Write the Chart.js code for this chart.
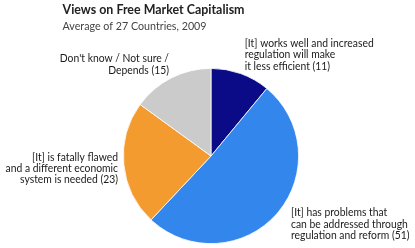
<!DOCTYPE html>
<html><head><meta charset="utf-8">
<script src="https://cdn.jsdelivr.net/npm/chart.js@4"></script>
<style>html,body{margin:0;padding:0;background:#fff}#wrap{width:415px;height:248px;position:relative}</style>
</head><body><div id="wrap"><canvas id="c" width="415" height="248"></canvas></div>
<script>
const categories = [
  "[It] works well and increased regulation will make it less efficient",
  "[It] has problems that can be addressed through regulation and reform",
  "[It] is fatally flawed and a different economic system is needed",
  "Don't know / Not sure / Depends"
];
const values = [11, 51, 23, 15];
const colors = ["#0b0b87", "#3386ec", "#f39b2f", "#cbcbcb"];
const labelLines = [
  ["[It] works well and increased", "regulation will make", "it less efficient (11)"],
  ["[It] has problems that", "can be addressed through", "regulation and reform (51)"],
  ["[It] is fatally flawed", "and a different economic", "system is needed (23)"],
  ["Don't know / Not sure /", "Depends (15)"]
];
const titleText = "Views on Free Market Capitalism";
const subtitleText = "Average of 27 Countries, 2009";

const FONT = "Lato, sans-serif";
function drawScaled(ctx, text, x, y, sx, align) {
  const w = ctx.measureText(text).width * sx;
  const left = align === 'right' ? x - w : x;
  ctx.save();
  ctx.textAlign = 'left';
  ctx.translate(left, y);
  ctx.scale(sx, 1);
  ctx.fillText(text, 0, 0);
  ctx.restore();
}
const textPlugin = {
  id: 'texts',
  afterDraw(chart) {
    const ctx = chart.ctx;
    ctx.save();
    ctx.textBaseline = 'alphabetic';
    ctx.fillStyle = '#222';
    ctx.font = "bold 13px " + FONT;
    drawScaled(ctx, titleText, 62.5, 13.5, 182 / ctx.measureText(titleText).width, 'left');
    ctx.fillStyle = '#444';
    ctx.font = "11px " + FONT;
    drawScaled(ctx, subtitleText, 62.5, 29.5, 144 / ctx.measureText(subtitleText).width, 'left');
    ctx.fillStyle = '#1a1a1a';
    ctx.font = "11px " + FONT;
    const sx = 129 / ctx.measureText(labelLines[0][0]).width;
    const place = [
      {x: 244.7, y: 47, a: 'left', h: 11.3},
      {x: 291, y: 216, a: 'left', h: 11.5},
      {x: 118, y: 160.7, a: 'right', h: 10.9},
      {x: 169, y: 62.3, a: 'right', h: 11.7}
    ];
    labelLines.forEach((lines, i) => {
      const p = place[i];
      lines.forEach((ln, j) => drawScaled(ctx, ln, p.x, p.y + j * p.h, sx, p.a));
    });
    ctx.restore();
  }
};

new Chart(document.getElementById('c'), {
  type: 'pie',
  data: {
    labels: categories,
    datasets: [{ data: values, backgroundColor: colors, borderColor: '#ffffff', borderWidth: 0.8 }]
  },
  options: {
    responsive: false,
    animation: false,
    layout: { padding: { top: 68, bottom: 4, left: 123, right: 116 } },
    plugins: { legend: { display: false }, tooltip: { enabled: false }, title: { display: false } }
  },
  plugins: [textPlugin]
});
</script></body></html>
